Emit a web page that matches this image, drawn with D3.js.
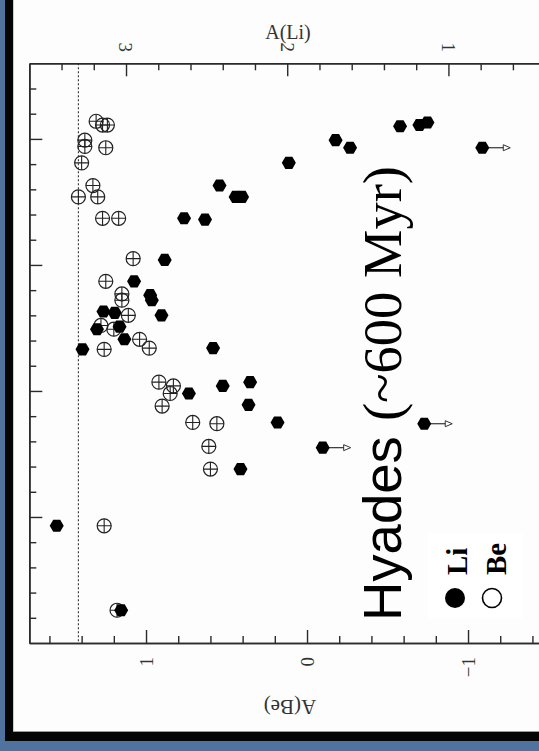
<!DOCTYPE html>
<html>
<head>
<meta charset="utf-8">
<script src="https://cdn.jsdelivr.net/npm/d3@7"></script>
<style>
  html, body { margin: 0; padding: 0; background: #4f729e; }
  svg { display: block; }
</style>
</head>
<body>
<svg id="chart" width="539" height="751"></svg>
<script>
// Hyades: lithium (filled) and beryllium (circled plus) abundances vs. effective temperature
const liTeff  = [4950, 4945, 4935, 5005, 5035, 5035, 5095, 5185, 5230, 5230, 5320, 5315, 5480, 5565,
                 5620, 5640, 5685, 5690, 5745, 5755, 5700, 5795, 5835, 5830, 6010, 5980, 5965, 6055,
                 6125, 6130, 6225, 6310, 6535, 6870];
const liAbund = [1.30, 1.18, 1.13, 1.70, 1.61, 0.79, 1.99, 2.42, 2.32, 2.28, 2.51, 2.64, 2.76, 2.95,
                 2.85, 2.84, 3.14, 3.07, 3.04, 3.18, 2.78, 3.01, 3.27, 2.46, 2.61, 2.40, 2.23, 2.24,
                 2.06, 1.15, 1.78, 2.29, 3.43, 3.03];
// 1 = upper limit on A(Li)
const liLimit = [0, 0, 0, 0, 0, 1, 0, 0, 0, 0, 0, 0, 0, 0,
                 0, 0, 0, 0, 0, 0, 0, 0, 0, 0, 0, 0, 0, 0,
                 0, 1, 1, 0, 0, 0];

const beTeff  = [4930, 4945, 4945, 5005, 5030, 5035, 5095, 5185, 5230, 5230, 5315, 5315, 5475, 5565,
                 5615, 5640, 5700, 5740, 5755, 5795, 5830, 5835, 5965, 5980, 6010, 6060, 6125, 6130,
                 6220, 6310, 6535, 6870];
const beAbund = [1.31, 1.27, 1.24, 1.38, 1.38, 1.25, 1.40, 1.33, 1.30, 1.42, 1.27, 1.17, 1.08, 1.25,
                 1.15, 1.15, 1.11, 1.28, 1.20, 1.04, 0.98, 1.26, 0.92, 0.83, 0.85, 0.90, 0.71, 0.56,
                 0.61, 0.60, 1.26, 1.18];

const meteoriticBe = 1.42;
const liTicks = [3, 2, 1];
const beTicks = [1, 0, -1];
const liTickLabels = ['3', '2', '1'];
const beTickLabels = ['1', '0', '\u22121'];
const teffMajor = [5000, 5500, 6000, 6500];

const W = 539, H = 751;
const svg = d3.select('#chart');

// page background, dark frame, white panel
svg.append('rect').attr('width', W).attr('height', H).attr('fill', '#4f729e');
svg.append('rect').attr('x', 5).attr('y', -20).attr('width', 700).attr('height', 761).attr('fill', '#050505');
svg.append('rect').attr('x', 13).attr('y', -20).attr('width', 700).attr('height', 752).attr('fill', '#9a9a9a');
svg.append('rect').attr('x', 13.5).attr('y', -20).attr('width', 700).attr('height', 751).attr('fill', '#fdfdfd');

// scales
const xLi = d3.scaleLinear().domain([3.6, 0.3]).range([29.3, 29.3 + 3.3 * 161.2]);
const xBe = d3.scaleLinear().domain([1.725, -1.6]).range([29.3, 29.3 + 3.325 * 161]);
const yT  = d3.scaleLinear().domain([4700, 7000]).range([63.3, 643]);

const axisColor = '#2a2a2a';
const serif = '"Liberation Serif", "Times New Roman", serif';

function styleAxis(g) {
  g.selectAll('path.domain').attr('stroke', axisColor).attr('stroke-width', 1.6);
  g.selectAll('.tick line').attr('stroke', axisColor).attr('stroke-width', 1.4);
}

// top axis: A(Li)
const liMinor = d3.range(2, 18).map(k => +(k * 0.2).toFixed(1)).filter(v => !liTicks.includes(v));
const topMinor = svg.append('g').attr('transform', 'translate(0,63.3)')
  .call(d3.axisTop(xLi).tickValues(liMinor).tickSize(-7).tickSizeOuter(0).tickFormat(''));
styleAxis(topMinor);
const topMajor = svg.append('g').attr('transform', 'translate(0,63.3)')
  .call(d3.axisTop(xLi).tickValues(liTicks).tickSize(-13).tickSizeOuter(0).tickFormat(''));
styleAxis(topMajor);
// rotated tick labels, reading downward, ending just above the axis
svg.append('g').selectAll('text').data(liTicks).join('text')
  .attr('transform', d => `translate(${xLi(d)},52) rotate(90)`)
  .attr('text-anchor', 'end').attr('dy', '0.35em')
  .attr('fill', '#333').attr('font-family', serif).attr('font-size', 19)
  .text((d, i) => liTickLabels[i]);

// bottom axis: A(Be)
const beMinor = d3.range(-8, 9).map(k => +(k * 0.2).toFixed(1)).filter(v => !beTicks.includes(v));
const botMinor = svg.append('g').attr('transform', 'translate(0,643)')
  .call(d3.axisBottom(xBe).tickValues(beMinor).tickSize(-7).tickSizeOuter(0).tickFormat(''));
styleAxis(botMinor);
const botMajor = svg.append('g').attr('transform', 'translate(0,643)')
  .call(d3.axisBottom(xBe).tickValues(beTicks).tickSize(-13).tickSizeOuter(0).tickFormat(''));
styleAxis(botMajor);
// rotated tick labels, reading upward, ending just below the axis
svg.append('g').selectAll('text').data(beTicks).join('text')
  .attr('transform', d => `translate(${xBe(d)},657) rotate(-90)`)
  .attr('text-anchor', 'end').attr('dy', '0.35em')
  .attr('fill', '#333').attr('font-family', serif).attr('font-size', 19)
  .text((d, i) => beTickLabels[i]);

// left axis: effective temperature (unlabelled side)
const tMinor = d3.range(4800, 7000, 100).filter(v => !teffMajor.includes(v));
const leftMinor = svg.append('g').attr('transform', 'translate(29.3,0)')
  .call(d3.axisRight(yT).tickValues(tMinor).tickSize(7).tickSizeOuter(0).tickFormat(''));
styleAxis(leftMinor);
const leftMajor = svg.append('g').attr('transform', 'translate(29.3,0)')
  .call(d3.axisRight(yT).tickValues(teffMajor).tickSize(13).tickSizeOuter(0).tickFormat(''));
styleAxis(leftMajor);

// axis titles
svg.append('text').attr('x', 288).attr('y', 39).attr('text-anchor', 'middle')
  .attr('font-family', serif).attr('font-size', 20).attr('fill', '#333').text('A(Li)');
svg.append('text').attr('transform', 'translate(290,700) rotate(180)').attr('text-anchor', 'middle')
  .attr('font-family', serif).attr('font-size', 21).attr('fill', '#333').text('A(Be)');

// meteoritic Be level
svg.append('line')
  .attr('x1', xBe(meteoriticBe)).attr('x2', xBe(meteoriticBe))
  .attr('y1', yT(4700)).attr('y2', yT(7000))
  .attr('stroke', '#333').attr('stroke-width', 1.1).attr('stroke-dasharray', '2,2');

// Be: circle with a plus
const beData = beTeff.map((t, i) => ({ t, a: beAbund[i] }));
const beG = svg.append('g').selectAll('g').data(beData).join('g')
  .attr('transform', d => `translate(${xBe(d.a)},${yT(d.t)})`);
const rBe = 7;
beG.append('circle').attr('r', rBe).attr('fill', 'none').attr('stroke', '#222').attr('stroke-width', 1.2);
beG.append('path').attr('d', `M${-rBe},0H${rBe}M0,${-rBe}V${rBe}`)
  .attr('stroke', '#222').attr('stroke-width', 1.1);

// Li: filled hexagons, upper limits with arrows
const liData = liTeff.map((t, i) => ({ t, a: liAbund[i], lim: liLimit[i] }));
const hexR = 7;
const hexPath = d3.line()(d3.range(6).map(k => {
  const ang = Math.PI / 6 + k * Math.PI / 3 + Math.PI / 2;
  return [hexR * Math.cos(ang), hexR * Math.sin(ang)];
})) + 'Z';

const arrows = liData.filter(d => d.lim);
const arrG = svg.append('g').selectAll('g').data(arrows).join('g')
  .attr('transform', d => `translate(${xLi(d.a)},${yT(d.t)})`);
arrG.append('line').attr('x1', 0).attr('x2', 22).attr('y1', 0).attr('y2', 0)
  .attr('stroke', '#333').attr('stroke-width', 1.2);
arrG.append('path').attr('d', 'M21,-3L28,0L21,3Z')
  .attr('fill', '#fff').attr('stroke', '#333').attr('stroke-width', 1);

svg.append('g').selectAll('path').data(liData).join('path')
  .attr('d', hexPath)
  .attr('transform', d => `translate(${xLi(d.a)},${yT(d.t)})`)
  .attr('fill', '#000');

// cluster label
const label = svg.append('text')
  .attr('transform', 'translate(401,621) rotate(-90)')
  .attr('text-anchor', 'start').attr('fill', '#000');
label.append('tspan').attr('font-family', '"Liberation Sans", Arial, sans-serif').attr('font-size', 54.5).text('Hyades ');
label.append('tspan').attr('font-family', serif).attr('font-size', 54.5).text('(~600 Myr)');

// legend
const lg = svg.append('g');
lg.append('rect').attr('x', 428).attr('y', 533).attr('width', 95).attr('height', 85).attr('fill', '#ffffff');
lg.append('circle').attr('cx', 455).attr('cy', 598).attr('r', 10).attr('fill', '#000');
lg.append('circle').attr('cx', 492).attr('cy', 598).attr('r', 9.5).attr('fill', 'none')
  .attr('stroke', '#000').attr('stroke-width', 1.6);
lg.append('text').attr('transform', 'translate(467,575) rotate(-90)')
  .attr('font-family', serif).attr('font-weight', 'bold').attr('font-size', 29).text('Li');
lg.append('text').attr('transform', 'translate(506,575) rotate(-90)')
  .attr('font-family', serif).attr('font-weight', 'bold').attr('font-size', 29).text('Be');
</script>
</body>
</html>
